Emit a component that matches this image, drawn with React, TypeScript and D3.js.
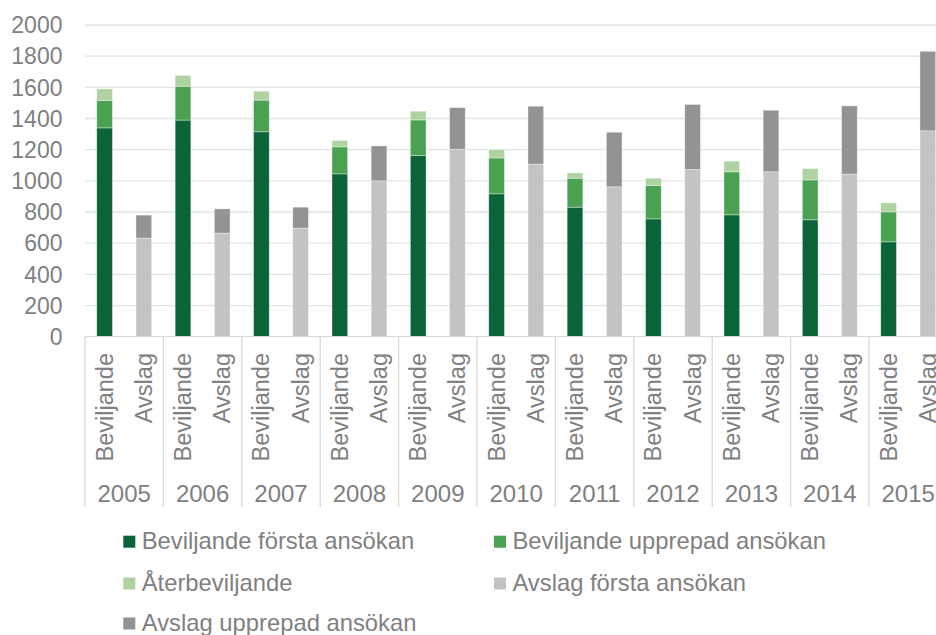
import React from "react";
import * as d3 from "d3";

const years = ["2005", "2006", "2007", "2008", "2009", "2010", "2011", "2012", "2013", "2014", "2015"];
const types = ["Beviljande", "Avslag"];
const bevFirst = [1340, 1390, 1315, 1045, 1163, 917, 831, 756, 782, 750, 609];
const bevRepeat = [175, 217, 203, 173, 228, 230, 186, 214, 276, 256, 192];
const reGrant = [75, 70, 57, 41, 56, 54, 34, 47, 68, 73, 58];
const avslagFirst = [633, 665, 697, 1000, 1203, 1107, 962, 1073, 1058, 1043, 1321];
const avslagRepeat = [147, 155, 134, 224, 267, 372, 350, 417, 395, 438, 510];
const yTicks = [0, 200, 400, 600, 800, 1000, 1200, 1400, 1600, 1800, 2000];

const seriesNames = [
  "Beviljande första ansökan",
  "Beviljande upprepad ansökan",
  "Återbeviljande",
  "Avslag första ansökan",
  "Avslag upprepad ansökan",
];
const colors = ["#0b6437", "#4aa152", "#aed3a0", "#c3c3c3", "#939393"];

const W = 936;
const H = 635;
const FONT = "'Liberation Sans', Arial, sans-serif";
const TXT = "#808080";

export default function App() {
  const left = 85;
  const right = 947.4;
  const top = 25;
  const bottom = 336.7;

  const xYear = d3.scaleBand<string>().domain(years).range([left, right]).padding(0);
  const xType = d3
    .scaleBand<string>()
    .domain(types)
    .range([0, xYear.bandwidth()])
    .paddingInner(0.6)
    .paddingOuter(0.3);
  const y = d3.scaleLinear().domain([0, 2000]).range([bottom, top]);

  const stacksBev = d3.stack<number>().keys(["0", "1", "2"]).value((i, k) => [bevFirst, bevRepeat, reGrant][+k][i])(
    years.map((_, i) => i)
  );
  const stacksAvs = d3.stack<number>().keys(["3", "4"]).value((i, k) => (+k === 3 ? avslagFirst : avslagRepeat)[i])(
    years.map((_, i) => i)
  );

  const bars: React.ReactNode[] = [];
  const addStack = (stacks: any[], type: string) => {
    stacks.forEach((s) => {
      const si = +s.key;
      s.forEach((d: any, i: number) => {
        const x0 = (xYear(years[i]) as number) + (xType(type) as number);
        bars.push(
          <rect
            key={`${type}-${si}-${i}`}
            x={x0}
            y={y(d[1])}
            width={xType.bandwidth()}
            height={y(d[0]) - y(d[1])}
            fill={colors[si]}
            stroke="#ffffff"
            strokeOpacity={0.45}
            strokeWidth={0.8}
          />
        );
      });
    });
  };
  addStack(stacksBev, "Beviljande");
  addStack(stacksAvs, "Avslag");

  const legendCols = [123.3, 494];
  const legendRows = [541.7, 583.5, 623.5];
  const mk = 12;

  return (
    <svg
      width={W}
      height={H}
      style={{ position: "absolute", left: 0, top: 0, background: "#fff" }}
      fontFamily={FONT}
    >
      <rect x={0} y={0} width={W} height={H} fill="#fff" />
      {yTicks.map((t) => (
        <g key={t}>
          {t > 0 && <line x1={left} x2={right} y1={y(t)} y2={y(t)} stroke="#e3e3e3" strokeWidth={1.3} />}
          <text x={62.5} y={y(t)} dy="0.36em" textAnchor="end" fontSize={23} fill={TXT}>
            {t}
          </text>
        </g>
      ))}
      {bars}
      <line x1={left} x2={right} y1={bottom} y2={bottom} stroke="#d9d9d9" strokeWidth={1.3} />
      {years.concat(["end"]).map((yr, i) => {
        const xx = i < years.length ? (xYear(yr) as number) : right;
        return <line key={"sep" + i} x1={xx} x2={xx} y1={bottom} y2={507} stroke="#d9d9d9" strokeWidth={1.3} />;
      })}
      {years.map((yr) =>
        types.map((tp) => {
          const cx = (xYear(yr) as number) + (xType(tp) as number) + xType.bandwidth() / 2;
          return (
            <text
              key={yr + tp}
              transform={`translate(${cx + 8},353) rotate(-90)`}
              textAnchor="end"
              fontSize={23.5}
              fill={TXT}
            >
              {tp}
            </text>
          );
        })
      )}
      {years.map((yr) => (
        <text
          key={"y" + yr}
          x={(xYear(yr) as number) + xYear.bandwidth() / 2}
          y={501.7}
          textAnchor="middle"
          fontSize={24}
          fill={TXT}
        >
          {yr}
        </text>
      ))}
      {seriesNames.map((name, i) => {
        const lx = legendCols[i % 2];
        const ly = legendRows[Math.floor(i / 2)];
        return (
          <g key={name}>
            <rect x={lx} y={ly - mk / 2} width={mk} height={mk} fill={colors[i]} />
            <text x={lx + 18.4} y={ly + 7} fontSize={23.8} fill={TXT}>
              {name}
            </text>
          </g>
        );
      })}
    </svg>
  );
}
